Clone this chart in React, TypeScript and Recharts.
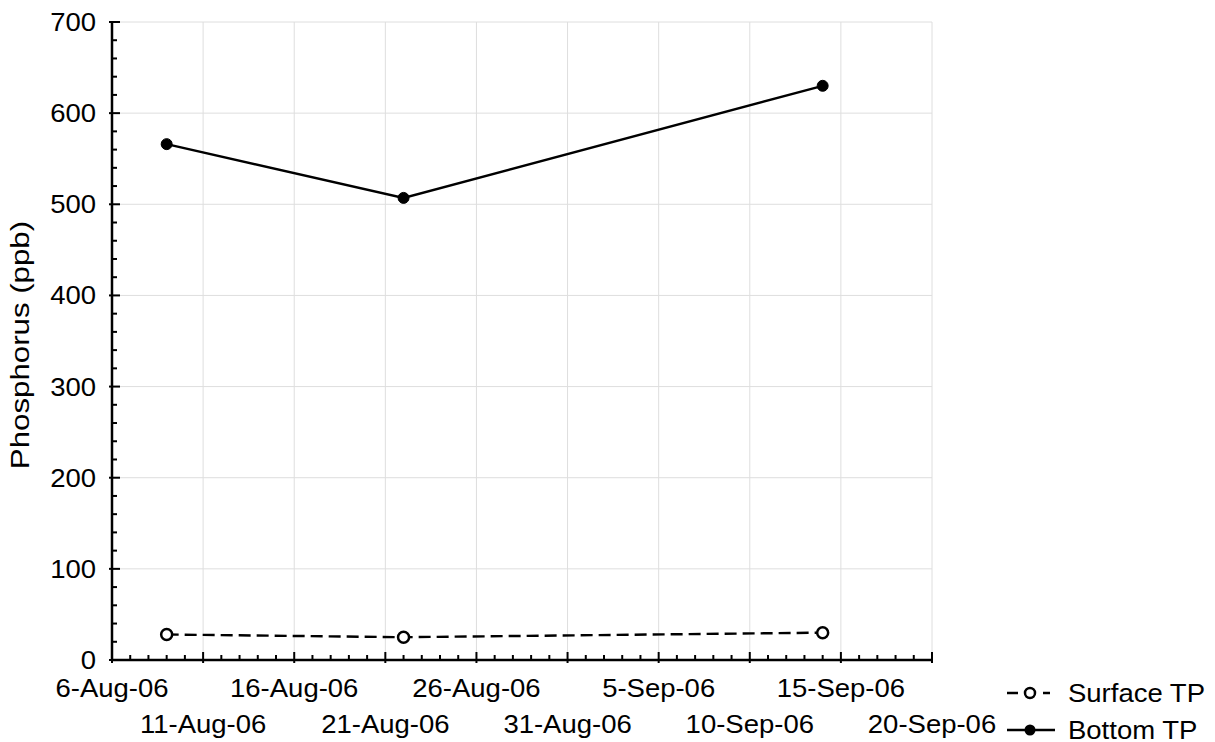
import React from "react";
import { LineChart, Line, XAxis, YAxis, CartesianGrid } from "recharts";

// days counted from 6-Aug-06
const xTickLabels = [
  "6-Aug-06", "11-Aug-06", "16-Aug-06", "21-Aug-06", "26-Aug-06",
  "31-Aug-06", "5-Sep-06", "10-Sep-06", "15-Sep-06", "20-Sep-06",
];
const xMajor = [0, 5, 10, 15, 20, 25, 30, 35, 40, 45];
const xMinor = Array.from({ length: 46 }, (_, i) => i);
const yMajor = [0, 100, 200, 300, 400, 500, 600, 700];
const yMinor = Array.from({ length: 36 }, (_, i) => i * 20);

const sampleDays = [3, 16, 39]; // 9-Aug, 22-Aug, 14-Sep
const surfaceTP = [28, 25, 30];
const bottomTP = [566, 507, 630];

const data = sampleDays.map((d, i) => ({ day: d, surface: surfaceTP[i], bottom: bottomTP[i] }));

const FONT = "'Liberation Sans', Arial, Helvetica, sans-serif";
const FS = 25;
const SX = 1.1; // glyphs in the reference are a bit wide

function Label({ x, y, text, anchor = "middle" }: any) {
  return (
    <text
      transform={`translate(${x} ${y}) scale(${SX} 1)`}
      textAnchor={anchor}
      fontFamily={FONT}
      fontSize={FS}
      fill="#000"
    >
      {text}
    </text>
  );
}

function BottomTick(props: any) {
  const { x, y, payload } = props;
  const v = payload.value;
  const major = v % 5 === 0;
  const idx = xMajor.indexOf(v);
  return (
    <g>
      <line x1={x} x2={x} y1={major ? y + 3 : y} y2={major ? y - 8 : y - 5} stroke="#000" strokeWidth={2} />
      {major && <Label x={x} y={y + (idx % 2 === 0 ? 37 : 73)} text={xTickLabels[idx]} />}
    </g>
  );
}

function TopTick(props: any) {
  const { x, y, payload } = props;
  const major = payload.value % 5 === 0;
  return <line x1={x} x2={x} y1={major ? y - 3 : y} y2={major ? y + 8 : y + 5} stroke="#000" strokeWidth={2} />;
}

function LeftTick(props: any) {
  const { x, y, payload } = props;
  const v = payload.value;
  const major = v % 100 === 0;
  return (
    <g>
      <line x1={major ? x - 3 : x} x2={major ? x + 8 : x + 5} y1={y} y2={y} stroke="#000" strokeWidth={2} />
      {major && <Label x={x - 16} y={y + 9} text={String(v)} anchor="end" />}
    </g>
  );
}

function RightTick(props: any) {
  const { x, y, payload } = props;
  const major = payload.value % 100 === 0;
  return <line x1={major ? x + 3 : x} x2={major ? x - 8 : x - 5} y1={y} y2={y} stroke="#000" strokeWidth={2} />;
}

function Legend() {
  return (
    <g>
      <line x1={999} x2={1010} y1={685} y2={685} stroke="#000" strokeWidth={2.5} />
      <circle cx={1022} cy={685} r={5} fill="#fff" stroke="#000" strokeWidth={2.5} />
      <line x1={1035} x2={1042} y1={685} y2={685} stroke="#000" strokeWidth={2.5} />
      <Label x={1060} y={694} text="Surface TP" anchor="start" />
      <line x1={999} x2={1047} y1={722} y2={722} stroke="#000" strokeWidth={2.5} />
      <circle cx={1022} cy={722} r={5.5} fill="#000" />
      <Label x={1060} y={731} text="Bottom TP" anchor="start" />
    </g>
  );
}

export default function App() {
  return (
    <div style={{ position: "absolute", left: 8, top: 8, width: 1207, height: 734 }}>
      <LineChart
        width={1207}
        height={734}
        data={data}
        margin={{ top: 14, right: 283, bottom: 0, left: 0 }}
        style={{ fontFamily: FONT }}
      >
        <CartesianGrid
          xAxisId="x"
          yAxisId="y"
          stroke="#dedede"
          strokeWidth={1}
          horizontalValues={yMajor}
          verticalValues={xMajor}
        />
        <XAxis
          xAxisId="x"
          dataKey="day"
          type="number"
          domain={[0, 45]}
          ticks={xMinor}
          interval={0}
          height={82}
          tickSize={0}
          tickMargin={0}
          tickLine={false}
          axisLine={{ stroke: "#000", strokeWidth: 2.5 }}
          tick={(p: any) => <BottomTick {...p} />}
        />
        <XAxis
          xAxisId="top"
          orientation="top"
          dataKey="day"
          type="number"
          domain={[0, 45]}
          ticks={xMinor}
          interval={0}
          height={0}
          tickSize={0}
          tickMargin={0}
          tickLine={false}
          axisLine={{ stroke: "#000", strokeWidth: 2.5 }}
          tick={(p: any) => <TopTick {...p} />}
        />
        <YAxis
          yAxisId="y"
          type="number"
          domain={[0, 700]}
          ticks={yMinor}
          interval={0}
          width={104}
          tickSize={0}
          tickMargin={0}
          tickLine={false}
          axisLine={{ stroke: "#000", strokeWidth: 2.5 }}
          tick={(p: any) => <LeftTick {...p} />}
        />
        <YAxis
          yAxisId="right"
          orientation="right"
          type="number"
          domain={[0, 700]}
          ticks={yMinor}
          interval={0}
          width={0}
          tickSize={0}
          tickMargin={0}
          tickLine={false}
          axisLine={{ stroke: "#000", strokeWidth: 2.5 }}
          tick={(p: any) => <RightTick {...p} />}
        />
        <Line
          xAxisId="x"
          yAxisId="y"
          dataKey="surface"
          name="Surface TP"
          stroke="#000"
          strokeWidth={2.4}
          strokeDasharray="12 6"
          dot={{ r: 5.5, fill: "#fff", stroke: "#000", strokeWidth: 2.5, strokeDasharray: "0" }}
          isAnimationActive={false}
        />
        <Line
          xAxisId="x"
          yAxisId="y"
          dataKey="bottom"
          name="Bottom TP"
          stroke="#000"
          strokeWidth={2.4}
          dot={{ r: 5.5, fill: "#000", stroke: "#000", strokeWidth: 1 }}
          isAnimationActive={false}
        />
        <text
          transform={`translate(21 337) rotate(-90) scale(1.25 1)`}
          textAnchor="middle"
          fontFamily={FONT}
          fontSize={FS}
        >
          Phosphorus (ppb)
        </text>
        <Legend />
      </LineChart>
    </div>
  );
}
